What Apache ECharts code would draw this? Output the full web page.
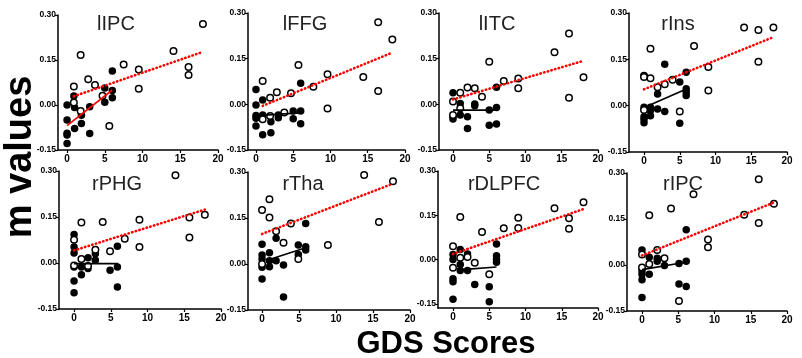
<!DOCTYPE html>
<html><head><meta charset="utf-8">
<script src="https://cdn.jsdelivr.net/npm/echarts@6/dist/echarts.min.js"></script>
<style>html,body{margin:0;padding:0;background:#fff}#c{width:802px;height:358px}</style>
</head><body><div id="c"></div>
<script>
// ---- data ----
const panelNames = ['lIPC','lFFG','lITC','rIns','rPHG','rTha','rDLPFC','rIPC'];
const xTicks = [0,5,10,15,20];
const yTicks = [-0.15,0,0.15,0.30];
const yAxisTitle = 'm values';
const xAxisTitle = 'GDS Scores';

const lIPC_open = [[18,0.27],[14.1,0.18],[16.1,0.127],[16.1,0.10],[9.5,0.118],[9.5,0.054],[7.5,0.135],[1.8,0.167],[2.8,0.086],[0.9,0.062],[0.9,0.008],[3.7,0.067],[1.8,-0.02],[4.7,0.031],[5.6,-0.07]];
const lIPC_filled = [[6,0.113],[0.9,0.03],[0,0],[0,-0.05],[0,-0.094],[0,-0.1],[0,-0.128],[1,-0.078],[1,-0.008],[1.9,-0.034],[1.9,-0.062],[3,-0.006],[3,-0.095],[5,0.057],[5,0.009],[6,0.048],[6,0.024]];
const lIPC_fitOpen = [[0.9,0.029],[18,0.177]];
const lIPC_fitFilled = [[0,-0.069],[6,0.05]];

const lFFG_open = [[16.4,0.27],[18.3,0.213],[5.7,0.129],[9.6,0.099],[14.4,0.09],[16.4,0.044],[0.9,0.077],[2.8,0.04],[1.9,0.022],[4.7,0.036],[7.7,0.058],[9.6,-0.014],[0.9,-0.049],[1.9,-0.038],[3.8,-0.027]];
const lFFG_filled = [[0,0.049],[0,-0.002],[0,-0.037],[0,-0.046],[0,-0.071],[0.9,0.014],[0.9,-0.035],[0.9,-0.1],[2,-0.057],[2,-0.093],[3,-0.035],[3,-0.044],[5,-0.022],[5,-0.047],[6,0.069],[6,-0.022],[6,-0.064]];
const lFFG_fitOpen = [[0.9,-0.005],[18.2,0.169]];
const lFFG_fitFilled = [[0,-0.037],[6,-0.028]];

const lITC_open = [[16,0.233],[14,0.171],[18,0.089],[16,0.022],[5,0.14],[7,0.077],[9,0.085],[9,0.053],[2,0.055],[3,0.053],[4,0.025],[1,0.038],[0,0.009],[0,-0.035],[1,-0.013]];
const lITC_filled = [[0,0.038],[0,-0.041],[0,-0.048],[1,0.003],[1,-0.035],[2,-0.041],[2,-0.079],[3,0.001],[3,-0.005],[5,-0.019],[5,-0.069],[6,0.056],[6,-0.01],[6,-0.065]];
const lITC_fitOpen = [[0,0.016],[18,0.143]];
const lITC_fitFilled = [[0,-0.019],[6,-0.019]];

const rIns_open = [[14,0.253],[16,0.245],[18.1,0.253],[16,0.142],[7,0.193],[9,0.125],[9,0.049],[0.9,0.184],[0,0.097],[0,0.093],[0.9,0.089],[1.9,0.06],[2.9,0.069],[4,0.084],[5,-0.019],[0,-0.014]];
const rIns_filled = [[2.9,0.134],[5.9,0.108],[5,0.077],[5.9,0.055],[5.9,0.044],[5.9,0.033],[1.9,0.038],[1.9,-0.011],[2.9,-0.019],[0.9,-0.005],[0.9,-0.016],[0.9,-0.033],[0,-0.005],[0,-0.036],[0,-0.044],[0,-0.055],[5,-0.057]];
const rIns_fitOpen = [[0,0.053],[18,0.221]];
const rIns_fitFilled = [[0.9,0.003],[6,0.055]];

const rPHG_open = [[13.8,0.286],[17.8,0.157],[15.7,0.148],[15.7,0.083],[8.9,0.141],[8.9,0.052],[6.9,0.079],[3.9,0.134],[1,0.132],[0,0.076],[2.9,0.043],[4.9,0.038],[1,0.013],[0,-0.008],[1.9,-0.01]];
const rPHG_filled = [[0,0.093],[0,0.052],[0,0.033],[0,-0.013],[0,-0.059],[0,-0.097],[1,-0.013],[1,-0.038],[1.9,0.017],[1.9,-0.018],[2.9,0.03],[2.9,0.009],[4.9,-0.024],[5.9,0.055],[5.9,-0.013],[5.9,-0.078]];
const rPHG_fitOpen = [[0,0.041],[17.8,0.174]];
const rPHG_fitFilled = [[0,-0.002],[6,-0.002]];

const rTha_open = [[13.8,0.29],[17.7,0.27],[15.8,0.137],[1,0.211],[0,0.176],[1,0.152],[1.9,0.107],[3.9,0.132],[2.9,0.069],[8.9,0.062],[4.9,0.016],[0,0]];
const rTha_filled = [[5.9,0.132],[1.9,0.084],[0,0.064],[0,0.029],[0,0.016],[0,-0.011],[0,-0.049],[1,0.037],[1,0.011],[1,-0.009],[1.9,0.011],[2.9,-0.003],[2.9,-0.108],[4.9,0.062],[4.9,0.031],[5.9,0.056],[5.9,0.046]];
const rTha_fitOpen = [[0,0.098],[17.7,0.262]];
const rTha_fitFilled = [[1,0.015],[6,0.054]];

const rDLPFC_open = [[18,0.194],[14,0.174],[16,0.14],[16,0.104],[9,0.142],[9,0.107],[7,0.106],[4,0.093],[1,0.144],[0,0.045],[1,0.006],[2,0.009],[3,-0.011],[5,-0.05],[0,-0.028]];
const rDLPFC_filled = [[0,0.017],[0,0],[0,-0.065],[0,-0.075],[0,-0.134],[1,0.034],[1,-0.017],[1,-0.037],[2,0.019],[2,-0.037],[3,-0.084],[5,-0.092],[5,-0.143],[6,0.053],[6,0.013],[6,0],[6,-0.009]];
const rDLPFC_fitOpen = [[0,0.019],[18,0.171]];
const rDLPFC_fitFilled = [[0.8,-0.035],[6,-0.025]];

const rIPC_open = [[16.1,0.28],[18.2,0.2],[14.1,0.164],[16.1,0.137],[7.1,0.231],[4,0.184],[1,0.162],[9.1,0.083],[9.1,0.058],[2.1,0.049],[3.1,0.022],[0,0.034],[1,0.003],[0,-0.008],[5.1,-0.117]];
const rIPC_filled = [[6.1,0.115],[0,0.049],[0,-0.019],[0,-0.03],[0,-0.048],[0,-0.106],[1,0.025],[1,-0.03],[2.1,0.022],[2.1,0.012],[3.1,-0.002],[5.1,0.005],[6.1,0.012],[5.1,-0.062],[6.1,-0.07]];
const rIPC_fitOpen = [[0,0.031],[18.2,0.204]];
const rIPC_fitFilled = [[0,-0.015],[6,0.009]];

const panelData = [
  [lIPC_open,lIPC_filled,lIPC_fitOpen,lIPC_fitFilled],
  [lFFG_open,lFFG_filled,lFFG_fitOpen,lFFG_fitFilled],
  [lITC_open,lITC_filled,lITC_fitOpen,lITC_fitFilled],
  [rIns_open,rIns_filled,rIns_fitOpen,rIns_fitFilled],
  [rPHG_open,rPHG_filled,rPHG_fitOpen,rPHG_fitFilled],
  [rTha_open,rTha_filled,rTha_fitOpen,rTha_fitFilled],
  [rDLPFC_open,rDLPFC_filled,rDLPFC_fitOpen,rDLPFC_fitFilled],
  [rIPC_open,rIPC_filled,rIPC_fitOpen,rIPC_fitFilled]
];

// ---- layout ----
const layout = [
  {left:58, top:15, width:160, height:135, xmin:-1.2, ymin:-0.15, tx:111, ty:9},
  {left:248,top:13, width:157, height:137, xmin:-1.07,ymin:-0.15, tx:300, ty:9},
  {left:439,top:13, width:159, height:137, xmin:-1.93,ymin:-0.15, tx:492, ty:9},
  {left:629,top:13, width:158, height:139, xmin:-2.1, ymin:-0.15, tx:673, ty:9},
  {left:59, top:171,width:162, height:138, xmin:-2.05,ymin:-0.15, tx:112, ty:169},
  {left:248,top:172,width:162, height:138, xmin:-1.9, ymin:-0.15, tx:298, ty:169},
  {left:438,top:171,width:160, height:137, xmin:-2.07,ymin:-0.164,tx:499, ty:169},
  {left:627,top:173,width:160, height:138, xmin:-2.07,ymin:-0.15, tx:678, ty:169}
];
const tickFont = "'Liberation Sans Narrow','Liberation Sans',Arial,sans-serif";
const grids=[],xAxes=[],yAxes=[],series=[],titles=[];
layout.forEach((L,i)=>{
  grids.push({left:L.left,top:L.top,width:L.width,height:L.height});
  xAxes.push({gridIndex:i,type:'value',min:L.xmin,max:20,
    axisLine:{onZero:false,lineStyle:{color:'#000',width:1.5}},
    axisTick:{length:3,lineStyle:{color:'#000',width:1.2},customValues:xTicks},
    axisLabel:{customValues:xTicks,color:'#000',fontWeight:'bold',fontSize:10,fontFamily:tickFont,margin:4},
    splitLine:{show:false}});
  yAxes.push({gridIndex:i,type:'value',min:L.ymin,max:0.30,
    axisLine:{show:true,onZero:false,lineStyle:{color:'#000',width:1.5}},
    axisTick:{show:true,length:3,lineStyle:{color:'#000',width:1.2},customValues:yTicks},
    axisLabel:{customValues:yTicks,color:'#000',fontWeight:'bold',fontSize:8.5,fontFamily:tickFont,margin:2,
      formatter:v=>v.toFixed(2)},
    splitLine:{show:false}});
  titles.push({text:panelNames[i],left:L.tx,top:L.ty,textAlign:'center',
    textStyle:{fontSize:20,fontWeight:'normal',color:'#222',fontFamily:"'Liberation Sans',Arial,sans-serif"}});
  const d = panelData[i];
  series.push({type:'scatter',xAxisIndex:i,yAxisIndex:i,data:d[1],symbol:'circle',symbolSize:7.5,
    itemStyle:{color:'#000',borderColor:'#000',borderWidth:0,opacity:1},silent:true,z:2});
  series.push({type:'scatter',xAxisIndex:i,yAxisIndex:i,data:d[0],symbol:'circle',symbolSize:6.5,
    itemStyle:{color:'#fff',borderColor:'#000',borderWidth:1.5,opacity:1},silent:true,z:3});
  series.push({type:'line',xAxisIndex:i,yAxisIndex:i,data:d[3],symbol:'none',silent:true,z:4,
    lineStyle:{color:i===0?'#ff0000':'#000',width:1.6}});
  series.push({type:'line',xAxisIndex:i,yAxisIndex:i,data:d[2],symbol:'none',silent:true,z:5,
    lineStyle:{color:'#ff0000',width:2.6,type:[0.4,3.4],cap:'round'}});
});
const chart = echarts.init(document.getElementById('c'),null,{renderer:'canvas'});
chart.setOption({
  animation:false,
  title:titles,
  grid:grids, xAxis:xAxes, yAxis:yAxes, series:series,
  graphic:[
    {type:'text',x:21,y:157,rotation:Math.PI/2,
      style:{text:yAxisTitle,font:"bold 38px 'Liberation Sans',Arial,sans-serif",fill:'#000',align:'center',verticalAlign:'middle'}},
    {type:'text',x:446,y:344,
      style:{text:xAxisTitle,font:"bold 31px 'Liberation Sans',Arial,sans-serif",fill:'#000',align:'center',verticalAlign:'middle'}}
  ]
});
</script></body></html>
